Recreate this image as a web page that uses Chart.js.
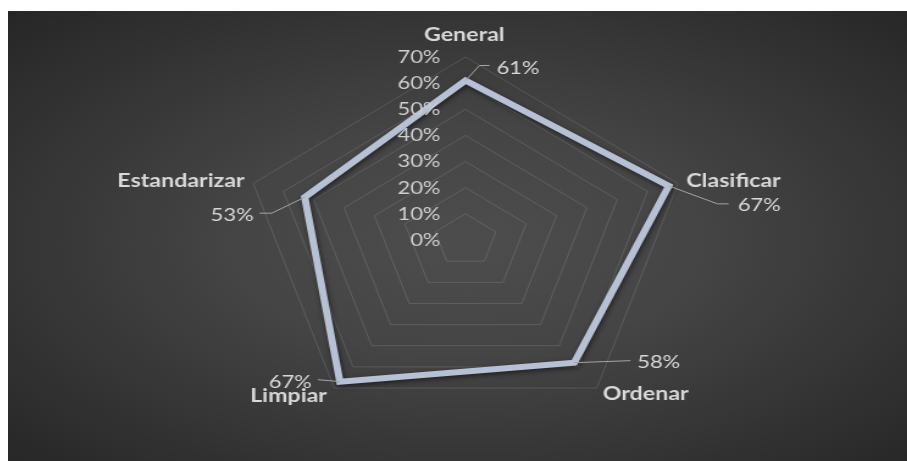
<!DOCTYPE html>
<html>
<head>
<meta charset="utf-8">
<script src="https://cdn.jsdelivr.net/npm/chart.js@4.4.1/dist/chart.umd.min.js"></script>
<style>
  html, body { margin: 0; padding: 0; background: #fff; }
  #fondo {
    position: absolute; left: 8px; top: 11px; width: 899px; height: 450px; overflow: hidden;
    background: radial-gradient(ellipse farthest-corner at 51% 51%, #4d4d4d 0%, #454545 35%, #262626 100%);
  }
  /* el radar se dibuja redondo y luego se estira a lo ancho */
  #lienzo { position: absolute; left: 0; top: 0; transform: scaleX(1.22); transform-origin: 0 0; }
</style>
</head>
<body>
<div id="fondo">
  <canvas id="lienzo" width="737" height="450"></canvas>
</div>
<script>
const categorias = ['General', 'Clasificar', 'Ordenar', 'Limpiar', 'Estandarizar'];
const valores = [61, 67, 58, 67, 53];
const marcas = [0, 10, 20, 30, 40, 50, 60, 70];

// donde va cada nombre respecto al vértice del anillo exterior
const posNombres = [
  { align: 'center', dx: -1, dy: -16 },
  { align: 'left', dx: 7, dy: 3.5 },
  { align: 'left', dx: 5, dy: 12 },
  { align: 'right', dx: -6, dy: 14 },
  { align: 'right', dx: -7, dy: 3.5 }
];

// etiqueta de valor + línea guía, respecto al punto de la serie
const posValores = [
  { align: 'left', tx: 25.4, ty: -7, codo: [11.5, -15], fin: [19.7, -15] },
  { align: 'left', tx: 56.6, ty: 25, codo: [40, 18], fin: [49, 18] },
  { align: 'left', tx: 51.6, ty: 5, codo: [23, -1], fin: [46, -2] },
  { align: 'right', tx: -23, ty: 6, codo: [-8, -1], fin: [-18, -2] },
  { align: 'right', tx: -41.8, ty: 24, codo: [-27, 16], fin: [-37, 16] }
];

const colorTexto = '#d9d9d9';

const sombraLinea = {
  id: 'sombraLinea',
  beforeDatasetDraw(chart) {
    const ctx = chart.ctx;
    ctx.save();
    ctx.shadowColor = 'rgba(0,0,0,0.55)';
    ctx.shadowBlur = 5;
    ctx.shadowOffsetX = 1;
    ctx.shadowOffsetY = 2;
  },
  afterDatasetDraw(chart) {
    chart.ctx.restore();
  }
};

const textos = {
  id: 'textos',
  afterDraw(chart) {
    const ctx = chart.ctx;
    const r = chart.scales.r;
    ctx.save();

    // marcas del eje, alineadas a la derecha del centro
    ctx.font = '18px Lato';
    ctx.fillStyle = '#cfcfcf';
    ctx.textAlign = 'right';
    ctx.textBaseline = 'middle';
    marcas.forEach(v => {
      const d = r.getDistanceFromCenterForValue(v);
      ctx.fillText(v + '%', r.xCenter - 20.5, r.yCenter - d);
    });

    // nombres de las categorías
    ctx.font = 'bold 19px Lato';
    ctx.fillStyle = colorTexto;
    ctx.textBaseline = 'alphabetic';
    categorias.forEach((nombre, i) => {
      const p = r.getPointPosition(i, r.drawingArea);
      const o = posNombres[i];
      ctx.textAlign = o.align;
      ctx.fillText(nombre, p.x + o.dx, p.y + o.dy);
    });

    // valores con su línea guía
    const puntos = chart.getDatasetMeta(0).data;
    ctx.font = '18px Lato';
    ctx.strokeStyle = '#a6a6a6';
    ctx.lineWidth = 1;
    valores.forEach((v, i) => {
      const pt = puntos[i];
      const o = posValores[i];
      ctx.beginPath();
      ctx.moveTo(pt.x, pt.y);
      ctx.lineTo(pt.x + o.codo[0], pt.y + o.codo[1]);
      ctx.lineTo(pt.x + o.fin[0], pt.y + o.fin[1]);
      ctx.stroke();
      ctx.textAlign = o.align;
      ctx.fillText(v + '%', pt.x + o.tx, pt.y + o.ty);
    });

    ctx.restore();
  }
};

new Chart(document.getElementById('lienzo'), {
  type: 'radar',
  data: {
    labels: categorias,
    datasets: [{
      label: 'Resultado',
      data: valores,
      borderColor: '#b6c1d6',
      borderWidth: 6,
      borderJoinStyle: 'miter',
      fill: false,
      pointRadius: 0,
      pointHoverRadius: 0,
      tension: 0
    }]
  },
  options: {
    responsive: false,
    animation: false,
    layout: { padding: { top: 46, bottom: 38, left: 192, right: 179 } },
    plugins: { legend: { display: false }, tooltip: { enabled: false } },
    scales: {
      r: {
        min: marcas[0],
        max: marcas[marcas.length - 1],
        ticks: { stepSize: 10, display: false },
        grid: { color: 'rgba(255,255,255,0.13)', lineWidth: 1 },
        angleLines: { display: false },
        pointLabels: { display: false }
      }
    }
  },
  plugins: [sombraLinea, textos]
});
</script>
</body>
</html>
